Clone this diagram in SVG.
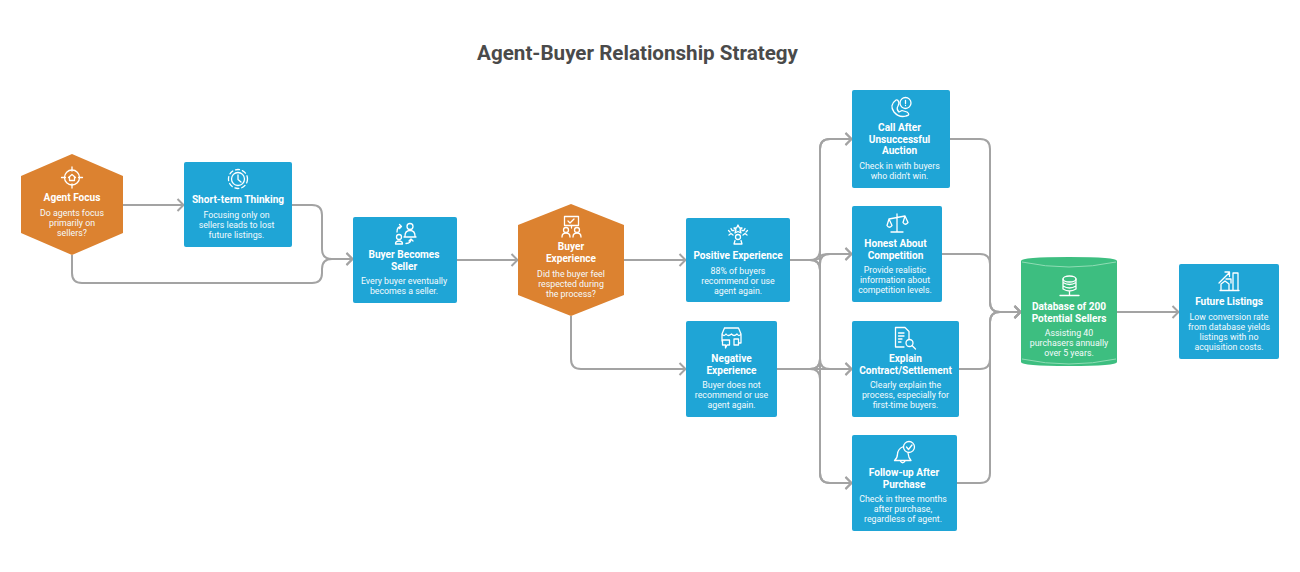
<svg xmlns="http://www.w3.org/2000/svg" width="1300" height="572" viewBox="0 0 1300 572">
<defs>
<marker id="arrow" markerUnits="userSpaceOnUse" markerWidth="12" markerHeight="16" refX="9" refY="8" orient="auto">
<path d="M3.500,2 L9.500,8 L3.500,14" fill="none" stroke="#a3a3a3" stroke-width="2"/>
</marker>
</defs>
<style>
text{font-family:Roboto,"Liberation Sans",sans-serif;text-anchor:middle;fill:#fff}
.t{font-size:20.600px;font-weight:700;fill:#4a4a4a}
.h{font-size:10.100px;font-weight:700}
.b{font-size:8.800px;font-weight:400;fill:#f4fbfd}
.blue{fill:#1fa5d6}
.orange{fill:#dc8230}
.green{fill:#3dbe80}
.c path{fill:none;stroke:#a3a3a3;stroke-width:2}
.a{marker-end:url(#arrow)}
.i{fill:none;stroke:#fff;stroke-width:1.300;stroke-linecap:round;stroke-linejoin:round}
</style>
<rect width="1300" height="572" fill="#fff"/>
<text class="t" x="637.500" y="60">Agent-Buyer Relationship Strategy</text>
<g id="connectors" class="c">
<path class="a" d="M123,205H183"/>
<path class="a" d="M292,205H312Q322,205 322,215V249Q322,259 332,259H352"/>
<path class="a" d="M72,255V273Q72,283 82,283H312Q322,283 322,273V269Q322,259 332,259H352"/>
<path class="a" d="M457,260H517"/>
<path class="a" d="M624,260H685"/>
<path class="a" d="M571,316V359Q571,369 581,369H685"/>
<path class="a" d="M790,260H810Q820,260 820,250V149Q820,139 830,139H851"/>
<path class="a" d="M790,260H810Q820,260 820,257Q820,254 830,254H851"/>
<path class="a" d="M790,260H810Q820,260 820,270V359Q820,369 830,369H851"/>
<path class="a" d="M790,260H810Q820,260 820,270V473Q820,483 830,483H851"/>
<path class="a" d="M777,369H810Q820,369 820,359V149Q820,139 830,139H851"/>
<path class="a" d="M777,369H810Q820,369 820,359V264Q820,254 830,254H851"/>
<path class="a" d="M777,369H851"/>
<path class="a" d="M777,369H810Q820,369 820,379V473Q820,483 830,483H851"/>
<path class="a" d="M950,139H980Q990,139 990,149V302Q990,312 1000,312H1020"/>
<path class="a" d="M942,254H980Q990,254 990,264V302Q990,312 1000,312H1020"/>
<path class="a" d="M959,369H980Q990,369 990,359V322Q990,312 1000,312H1020"/>
<path class="a" d="M957,483H980Q990,483 990,473V322Q990,312 1000,312H1020"/>
<path class="a" d="M1117,312H1178"/>
</g>
<g id="agent-focus">
<path class="orange" d="M72,154L123,176V233L72,255L21,233V176Z"/>
<g class="i"><circle cx="72" cy="177.500" r="7.500"/><path d="M72,167V171M72,184V188M61.500,177.500H65.500M78.500,177.500H82.500M68.500,177.500L72,174.500L75.500,177.500M69.500,177V180.500H74.500V177"/></g>
<text class="h" x="72" y="201">Agent Focus</text>
<text class="b" x="72" y="216">Do agents focus</text>
<text class="b" x="72" y="226">primarily on</text>
<text class="b" x="72" y="236">sellers?</text>
</g>
<g id="short-term-thinking">
<rect class="blue" x="184" y="162" width="108" height="85" rx="2"/>
<g class="i"><circle cx="238" cy="179" r="6.500"/><path d="M238,175V179.500L241,182"/><circle cx="238" cy="179" r="9.500" stroke-dasharray="4 3"/></g>
<text class="h" x="238" y="203">Short-term Thinking</text>
<text class="b" x="236.500" y="218">Focusing only on</text>
<text class="b" x="236.500" y="228">sellers leads to lost</text>
<text class="b" x="236.500" y="238">future listings.</text>
</g>
<g id="buyer-becomes-seller">
<rect class="blue" x="353" y="217" width="104" height="86" rx="2"/>
<g class="i"><circle cx="410" cy="226.500" r="3"/><path d="M405,236Q405,230.500 410,230.500Q415,230.500 415,236Q415,237 416,237H404Q405,237 405,236Z"/><circle cx="399" cy="237" r="2.500"/><path d="M395.500,244Q395.500,241 399,241Q402.500,241 402.500,244Z"/><path d="M397,232Q397,226.500 401.500,226.500M399.500,224.500L401.500,226.500L399.500,228.500M406,243.500Q411,243.500 411,239M409,241L411,239L413,241"/></g>
<text class="h" x="404" y="258">Buyer Becomes</text>
<text class="h" x="404" y="269.500">Seller</text>
<text class="b" x="404" y="284">Every buyer eventually</text>
<text class="b" x="404" y="294">becomes a seller.</text>
</g>
<g id="buyer-experience">
<path class="orange" d="M571,204L624,225V295L571,316L518,295V225Z"/>
<g class="i"><rect x="564.500" y="216.500" width="14" height="9"/><path d="M568,221L570,223L574,219M571.500,225.500V228"/><circle cx="566" cy="230" r="2.500"/><circle cx="577" cy="230" r="2.500"/><path d="M562,237Q562,233 566,233Q570,233 570,237M573,237Q573,233 577,233Q581,233 581,237"/></g>
<text class="h" x="571" y="250">Buyer</text>
<text class="h" x="571" y="262">Experience</text>
<text class="b" x="571" y="277">Did the buyer feel</text>
<text class="b" x="571" y="287">respected during</text>
<text class="b" x="571" y="297">the process?</text>
</g>
<g id="positive-experience">
<rect class="blue" x="686" y="218" width="104" height="84" rx="2"/>
<g class="i"><path d="M738,225L739.500,228H742L740,230L741,233L738,231.500L735,233L736,230L734,228H736.500ZM731,228.500L732,230.500H734M729,235L731,233.500L733,235M745,228.500L744,230.500H742M747,235L745,233.500L743,235M728.500,230.500L730,232M747.500,230.500L746,232"/><circle cx="738" cy="237" r="2.500"/><path d="M734,244L735,240.500M742,244L741,240.500M734,244H742"/></g>
<text class="h" x="738" y="259">Positive Experience</text>
<text class="b" x="738" y="274">88% of buyers</text>
<text class="b" x="738" y="284">recommend or use</text>
<text class="b" x="738" y="294">agent again.</text>
</g>
<g id="negative-experience">
<rect class="blue" x="686" y="321" width="91" height="96" rx="2"/>
<g class="i"><path d="M724.500,328H738.500L741,334V343H739M722,341V334L724.500,328M722,334Q724,337 726,334Q728,337 731.500,334Q734,337 737,334Q739,337 741,334M722.500,340H729.500V345H727L725.500,348V345H722.500ZM734,339H738.500V345H734Z"/></g>
<text class="h" x="731.500" y="362">Negative</text>
<text class="h" x="731.500" y="373.500">Experience</text>
<text class="b" x="731.500" y="388">Buyer does not</text>
<text class="b" x="731.500" y="398">recommend or use</text>
<text class="b" x="731.500" y="408">agent again.</text>
</g>
<g id="call-after-auction">
<rect class="blue" x="852" y="90" width="98" height="98" rx="2"/>
<g class="i"><circle cx="905.500" cy="103" r="5.500"/><path d="M905.500,100.500V103.500M905.500,105.500V105.600M896,100Q889,105 894,112Q899,118 906,116Q911,115 907,112L902,110.500L899,112Q896,109 898,106L899,103Q898,99 896,100Z"/></g>
<text class="h" x="899.500" y="131">Call After</text>
<text class="h" x="899.500" y="142.500">Unsuccessful</text>
<text class="h" x="899.500" y="154">Auction</text>
<text class="b" x="899.500" y="169">Check in with buyers</text>
<text class="b" x="899.500" y="179">who didn't win.</text>
</g>
<g id="honest-about-competition">
<rect class="blue" x="852" y="206" width="90" height="96" rx="2"/>
<g class="i"><path d="M897,214V231.500M891,232H903M889,219L905,216M889,219L887,225.500Q889,229 892,225.500ZM905,216L903,222.500Q905,226 908,222.500Z"/></g>
<text class="h" x="895.500" y="247">Honest About</text>
<text class="h" x="895.500" y="258.500">Competition</text>
<text class="b" x="895" y="273">Provide realistic</text>
<text class="b" x="895" y="283">information about</text>
<text class="b" x="895" y="293">competition levels.</text>
</g>
<g id="explain-contract">
<rect class="blue" x="852" y="321" width="107" height="96" rx="2"/>
<g class="i"><path d="M895.500,327.500H905L909,331.500V339M895.500,327.500V347H904M898.500,333H904M898.500,336H904M898.500,339H902M898.500,342H901"/><circle cx="909.500" cy="343" r="3.500"/><path d="M912,345.500L915.500,349"/></g>
<text class="h" x="905.500" y="362">Explain</text>
<text class="h" x="905.500" y="373.500">Contract/Settlement</text>
<text class="b" x="905.500" y="388">Clearly explain the</text>
<text class="b" x="905.500" y="398">process, especially for</text>
<text class="b" x="905.500" y="408">first-time buyers.</text>
</g>
<g id="follow-up">
<rect class="blue" x="852" y="435" width="105" height="96" rx="2"/>
<g class="i"><circle cx="909" cy="447" r="5.500"/><path d="M906.500,447L908.500,449.500L912,445M902.500,447Q898,449 897.500,454Q897.500,458 894.500,460.500H911Q908.500,458 908,453M900,460.500Q902.500,465 905.500,460.500"/></g>
<text class="h" x="904" y="476">Follow-up After</text>
<text class="h" x="904" y="487.500">Purchase</text>
<text class="b" x="903" y="502">Check in three months</text>
<text class="b" x="903" y="512">after purchase,</text>
<text class="b" x="903" y="522">regardless of agent.</text>
</g>
<g id="database">
<path class="green" d="M1021,261Q1021,257 1069,257Q1117,257 1117,261V362Q1117,366 1069,366Q1021,366 1021,362Z"/>
<path d="M1022,262Q1069,272 1116,262M1022,359Q1069,369 1116,359" fill="none" stroke="#8fdcb4" stroke-width="1"/>
<g class="i"><ellipse cx="1069.500" cy="279" rx="6.500" ry="3"/><path d="M1063,279V289Q1069.500,293 1076,289V279M1063,282.500Q1069.500,286.500 1076,282.500M1063,286Q1069.500,290 1076,286M1069.500,291V295.500M1060,295.500H1079"/></g>
<text class="h" x="1069" y="310">Database of 200</text>
<text class="h" x="1069" y="321.500">Potential Sellers</text>
<text class="b" x="1069" y="336">Assisting 40</text>
<text class="b" x="1069" y="346">purchasers annually</text>
<text class="b" x="1069" y="356">over 5 years.</text>
</g>
<g id="future-listings">
<rect class="blue" x="1179" y="264" width="100" height="95" rx="2"/>
<g class="i"><path d="M1220,290.500H1239M1233,273H1238V290.500H1233ZM1226,279H1231V283M1219,283L1229,273M1225,272H1229.500V276.500M1221,290.500V284L1225,281L1229,284V290.500"/></g>
<text class="h" x="1229" y="305">Future Listings</text>
<text class="b" x="1229" y="320">Low conversion rate</text>
<text class="b" x="1229" y="330">from database yields</text>
<text class="b" x="1229" y="340">listings with no</text>
<text class="b" x="1229" y="350">acquisition costs.</text>
</g>
</svg>
